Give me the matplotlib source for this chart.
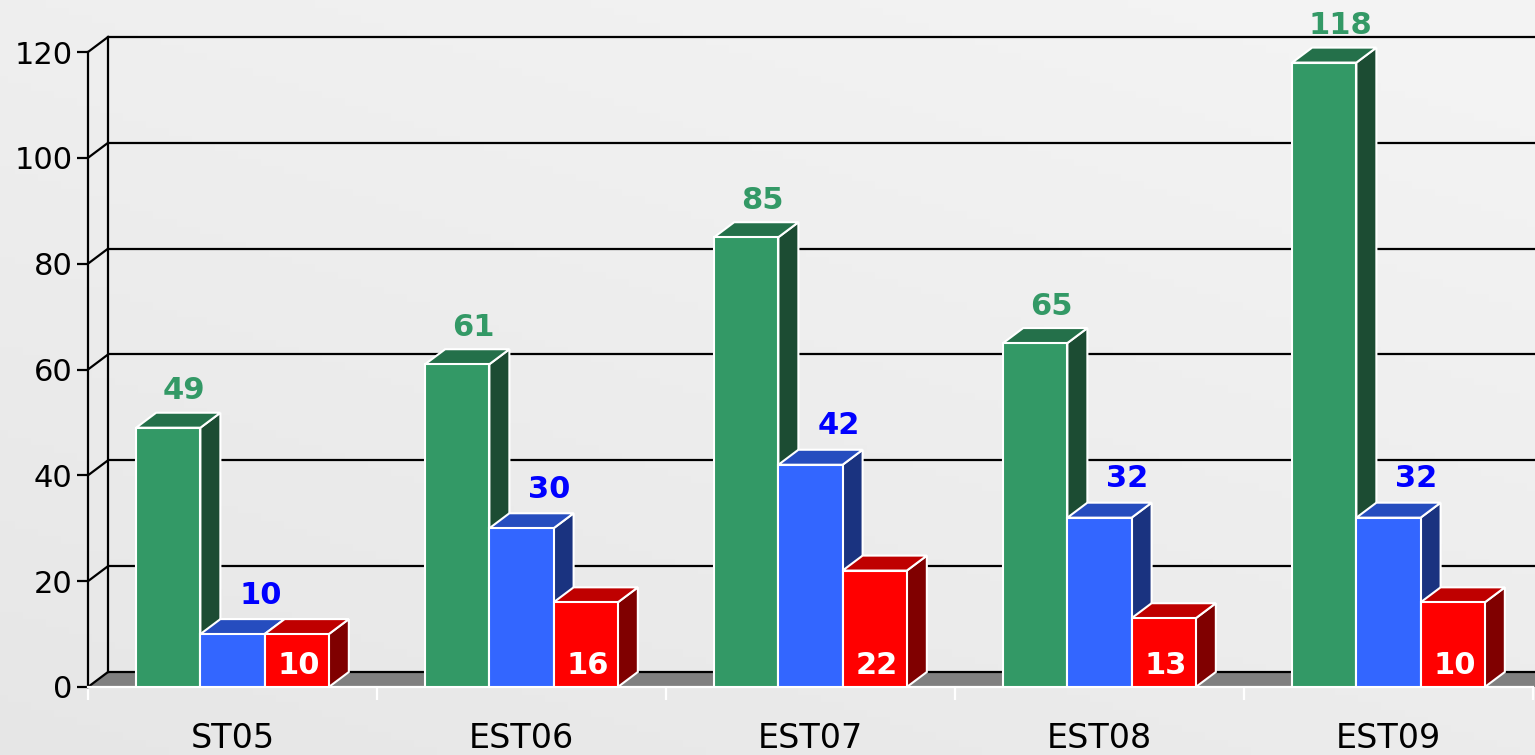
import matplotlib.pyplot as plt
import numpy as np
from matplotlib.patches import Polygon

# data
stations = ["ST05", "EST06", "EST07", "EST08", "EST09"]
green_vals = [49, 61, 85, 65, 118]
blue_vals = [10, 30, 42, 32, 32]
red_vals = [10, 16, 22, 13, 16]
red_labels = ["10", "16", "22", "13", "10"]
y_ticks = [0, 20, 40, 60, 80, 100, 120]

# (front, top, side) shades for each series
green_shades = ("#339966", "#24704a", "#1c4c33")
blue_shades = ("#3366ff", "#264dbf", "#1a3380")
red_shades = ("#ff0000", "#bf0000", "#800000")

FONT = "DejaVu Sans"
W_PX, H_PX = 1535, 755
AX_L, AX_B, AX_W, AX_H = 88, 68, 1445, 635
DEPTH_X_PX, DEPTH_Y_PX = 20, 15

fig = plt.figure(figsize=(W_PX / 100, H_PX / 100), dpi=100)

# soft grey backdrop
bg = fig.add_axes([0, 0, 1, 1], zorder=-5)
gx, gy = np.meshgrid(np.linspace(0, 1, 200), np.linspace(0, 1, 100))
shade = 0.9 + 0.055 * (0.6 * gy + 0.4 * gx)
bg.imshow(shade, cmap="gray", vmin=0, vmax=1, aspect="auto", origin="lower",
          extent=[0, 1, 0, 1])
bg.set_axis_off()

ax = fig.add_axes([AX_L / W_PX, AX_B / H_PX, AX_W / W_PX, AX_H / H_PX])
ax.patch.set_visible(False)
n = len(stations)
ax.set_xlim(-0.5, n - 0.5)
ax.set_ylim(0, 120)

# depth offset expressed in data units
DX = DEPTH_X_PX * n / AX_W
DY = DEPTH_Y_PX * 120 / AX_H
x0, x1 = -0.5, n - 0.5

# floor and walls
ax.add_patch(Polygon([(x0, 0), (x1 + DX, 0), (x1 + DX, DY), (x0 + DX, DY)],
                     closed=True, facecolor="#808080", edgecolor="none",
                     zorder=1, clip_on=False))
for t in y_ticks:
    ax.plot([x0 + DX, x1 + DX * 2], [t + DY, t + DY], color="black", lw=1.6,
            zorder=2, clip_on=False, solid_capstyle="butt")
    ax.plot([x0, x0 + DX], [t, t + DY], color="black", lw=1.6, zorder=2,
            clip_on=False)
ax.plot([x0 + DX, x0 + DX], [DY, 120 + DY], color="black", lw=1.6, zorder=2,
        clip_on=False)

for side in ["top", "right"]:
    ax.spines[side].set_visible(False)
ax.spines["left"].set_color("black")
ax.spines["left"].set_linewidth(1.6)
ax.spines["bottom"].set_color("white")
ax.spines["bottom"].set_linewidth(1.6)

ax.set_yticks(y_ticks)
ax.set_yticklabels([str(t) for t in y_ticks], fontsize=22, family=FONT)
ax.tick_params(axis="y", length=8, width=1.6, color="black", pad=3)

ax.set_xticks(np.arange(n + 1) - 0.5)
ax.set_xticklabels([])
ax.tick_params(axis="x", which="major", length=9, width=1.6, color="white")
ax.set_xticks(np.arange(n), minor=True)
ax.set_xticklabels(stations, minor=True, fontsize=24, family=FONT)
ax.tick_params(axis="x", which="minor", length=0, pad=25)

bw = 1 / 4.5
series = [
    (green_vals, green_shades, -bw),
    (blue_vals, blue_shades, 0.0),
    (red_vals, red_shades, bw),
]

z = 5
for i in range(n):
    for vals, (front, top, side), off in series:
        v = vals[i]
        left = i + off - bw / 2
        right = left + bw
        ax.add_patch(Polygon([(right, 0), (right + DX, DY), (right + DX, v + DY), (right, v)],
                             closed=True, facecolor=side, edgecolor="white",
                             lw=1.5, zorder=z, clip_on=False))
        ax.add_patch(Polygon([(left, v), (right, v), (right + DX, v + DY), (left + DX, v + DY)],
                             closed=True, facecolor=top, edgecolor="white",
                             lw=1.5, zorder=z, clip_on=False))
        ax.bar(left, v, width=bw, align="edge", color=front, edgecolor="white",
               linewidth=1.5, zorder=z + 0.5, clip_on=False)
        z += 1

label_style = dict(fontsize=22, fontweight="bold", family=FONT,
                   ha="center", va="center", textcoords="offset pixels",
                   annotation_clip=False, zorder=100)
for i in range(n):
    ax.annotate(str(green_vals[i]), (i - bw + DX / 2, green_vals[i] + DY),
                xytext=(6, 22), color="#339966", **label_style)
    ax.annotate(str(blue_vals[i]), (i + DX / 2, blue_vals[i] + DY),
                xytext=(18, 24), color="#0000ff", **label_style)
    ax.annotate(red_labels[i], (i + bw, 0),
                xytext=(2, 21), color="white", **label_style)

fig.savefig("out.png", dpi=100)
